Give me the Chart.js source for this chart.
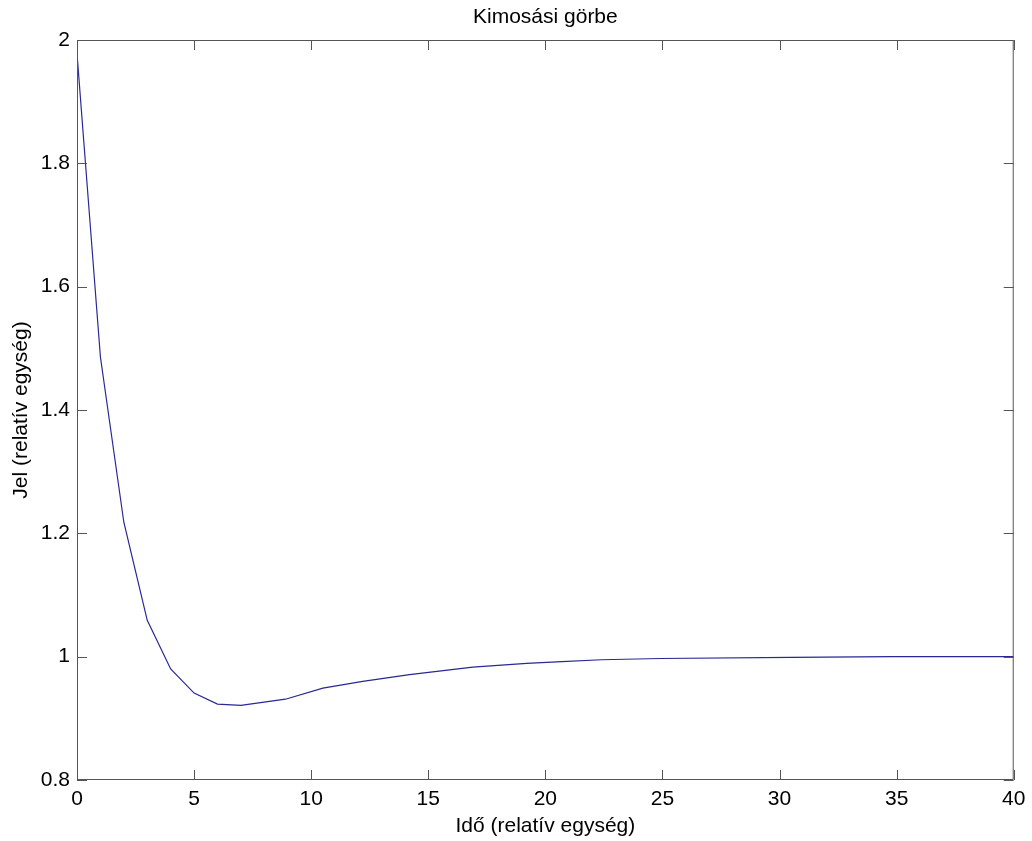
<!DOCTYPE html>
<html lang="hu">
<head>
<meta charset="utf-8">
<title>Kimosási görbe</title>
<script src="https://cdn.jsdelivr.net/npm/chart.js@4.4.1/dist/chart.umd.min.js"></script>
<style>
    html, body { margin: 0; padding: 0; background: #fff; }
    #wrap { width: 1032px; height: 841px; }
</style>
</head>
<body>
<div id="wrap"><canvas id="washoutChart" width="1032" height="841"></canvas></div>
<script>
// Washout curve: signal vs. time (relative units)
const timePoints = [0, 1, 2, 3, 4, 5, 6, 7, 8.9, 10.5, 12.2, 14.2, 16.9, 19.2, 20.7, 22.4, 24.9, 30.5, 34.8, 40];
const signalValues = [1.978, 1.486, 1.218, 1.059, 0.980, 0.941, 0.923, 0.921, 0.931, 0.949, 0.960, 0.971, 0.983, 0.989, 0.992, 0.995, 0.997, 0.999, 1.0, 1.0];

const xTicks = [0, 5, 10, 15, 20, 25, 30, 35, 40];
const yTicks = [0.8, 1, 1.2, 1.4, 1.6, 1.8, 2];

const axisColor = '#555555';
const fontFamily = '"Liberation Sans", Arial, sans-serif';

Chart.defaults.font.family = fontFamily;
Chart.defaults.font.size = 21;
Chart.defaults.color = '#000';

// Box around the plot with inward ticks on all four sides
const frameTicks = {
    id: 'frameTicks',
    afterDatasetsDraw(chart) {
        const { ctx, chartArea: a, scales } = chart;
        const len = 10;
        ctx.save();
        ctx.strokeStyle = axisColor;
        ctx.lineWidth = 1;
        ctx.beginPath();
        ctx.rect(a.left + 0.5, a.top + 0.5, a.right - a.left - 1, a.bottom - a.top - 1);
        scales.x.ticks.forEach(function(t) {
            const px = Math.round(scales.x.getPixelForValue(t.value)) + 0.5;
            ctx.moveTo(px, a.bottom);
            ctx.lineTo(px, a.bottom - len);
            ctx.moveTo(px, a.top);
            ctx.lineTo(px, a.top + len);
        });
        scales.y.ticks.forEach(function(t) {
            const py = Math.round(scales.y.getPixelForValue(t.value)) + 0.5;
            ctx.moveTo(a.left, py);
            ctx.lineTo(a.left + len, py);
            ctx.moveTo(a.right, py);
            ctx.lineTo(a.right - len, py);
        });
        ctx.stroke();
        ctx.restore();
    }
};

new Chart(document.getElementById('washoutChart'), {
    type: 'line',
    data: {
        datasets: [{
            data: timePoints.map((t, i) => ({ x: t, y: signalValues[i] })),
            borderColor: 'rgb(40, 40, 150)',
            borderWidth: 1.2,
            pointRadius: 0,
            tension: 0,
            fill: false
        }]
    },
    options: {
        responsive: false,
        animation: false,
        layout: {
            padding: { left: 0, right: 17, top: 0, bottom: 0 }
        },
        plugins: {
            legend: { display: false },
            tooltip: { enabled: false },
            title: {
                display: true,
                text: 'Kimosási görbe',
                fullSize: false,
                color: '#000',
                font: { size: 21, weight: 'normal' },
                padding: { top: 4.4, bottom: 10.4 }
            }
        },
        scales: {
            x: {
                type: 'linear',
                min: xTicks[0],
                max: xTicks[xTicks.length - 1],
                afterBuildTicks: function(scale) {
                    scale.ticks = xTicks.map(v => ({ value: v }));
                },
                afterFit: function(scale) {
                    scale.height = 61;
                },
                grid: { display: false, drawTicks: false },
                border: { display: false },
                ticks: {
                    padding: 6.6,
                    maxRotation: 0,
                    autoSkip: false,
                    callback: v => String(v)
                },
                title: {
                    display: true,
                    text: 'Idő (relatív egység)',
                    padding: { top: 0, bottom: 1.7 }
                }
            },
            y: {
                type: 'linear',
                min: yTicks[0],
                max: yTicks[yTicks.length - 1],
                afterBuildTicks: function(scale) {
                    scale.ticks = yTicks.map(v => ({ value: v }));
                },
                afterFit: function(scale) {
                    scale.width = 77;
                },
                grid: { display: false, drawTicks: false },
                border: { display: false },
                ticks: {
                    padding: 7,
                    autoSkip: false,
                    callback: v => String(Number(v.toFixed(1)))
                },
                title: {
                    display: true,
                    text: 'Jel (relatív egység)',
                    padding: { top: 8.4, bottom: 0 }
                }
            }
        }
    },
    plugins: [frameTicks]
});
</script>
</body>
</html>
